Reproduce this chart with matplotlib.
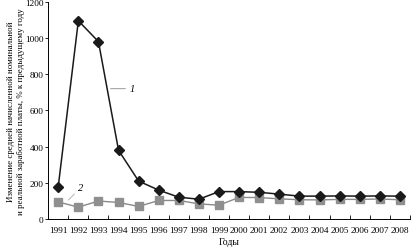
import matplotlib
matplotlib.use("Agg")
import matplotlib.pyplot as plt
import numpy as np

years = ["1991", "1992", "1993", "1994", "1995", "1996", "1997", "1998", "1999",
         "2000", "2001", "2002", "2003", "2004", "2005", "2006", "2007", "2008"]
nominal = [180, 1095, 980, 380, 210, 160, 121, 110, 152, 152, 148, 138, 127, 127, 128, 127, 128, 127]
real = [95, 66, 100, 92, 70, 103, 103, 84, 77, 120, 119, 112, 107, 106, 109, 109, 111, 107]
yticks = [0, 200, 400, 600, 800, 1000, 1200]

plt.rcParams['font.family'] = ['Liberation Serif', 'DejaVu Serif']

fig = plt.figure(figsize=(4.12, 2.51), dpi=100)
ax = fig.add_axes([0.117, 0.123, 0.878, 0.866])

x = np.arange(len(years))
ax.plot(x, real, color='#8a8a8a', lw=1.0, marker='s', ms=6, mfc='#8f8f8f', mec='#8f8f8f', zorder=2)
ax.plot(x, nominal, color='#1a1a1a', lw=1.1, marker='D', ms=5, mfc='#1a1a1a', mec='#1a1a1a', zorder=3)

ax.set_xlim(-0.5, len(years) - 0.5)
ax.set_ylim(0, 1200)
ax.set_yticks(yticks)
ax.set_yticklabels([str(v) for v in yticks], fontsize=6.7)
ax.set_xticks(x)
ax.set_xticklabels(years, fontsize=6.7)
ax.set_xticks(np.arange(len(years)) + 0.5, minor=True)
ax.tick_params(axis='x', which='major', length=0, pad=5)
ax.tick_params(axis='x', which='minor', direction='in', length=3, width=0.6)
ax.tick_params(axis='y', direction='out', length=2, width=0.6, pad=1.5)

for s in ['top', 'right']:
    ax.spines[s].set_visible(False)
for s in ['left', 'bottom']:
    ax.spines[s].set_linewidth(0.7)

ax.set_xlabel("Годы", fontsize=7, labelpad=2)
ax.set_ylabel("Изменение средней начисленной номинальной\nи реальной заработной платы, % к предыдущему году",
              fontsize=6.4, linespacing=1.4)
ax.yaxis.set_label_coords(-0.064, 0.5)

# series annotations
ax.annotate("1", xy=(2.6, 720), xytext=(3.55, 720), fontsize=7.5, style='italic',
            va='center', ha='left',
            arrowprops=dict(arrowstyle='-', color='#888888', lw=0.6, shrinkA=1, shrinkB=0))
ax.annotate("2", xy=(0.5, 105), xytext=(1.0, 175), fontsize=7.5, style='italic',
            va='center', ha='left',
            arrowprops=dict(arrowstyle='-', color='#aaaaaa', lw=0.6, shrinkA=1, shrinkB=0))

fig.savefig("out.png", dpi=100)
